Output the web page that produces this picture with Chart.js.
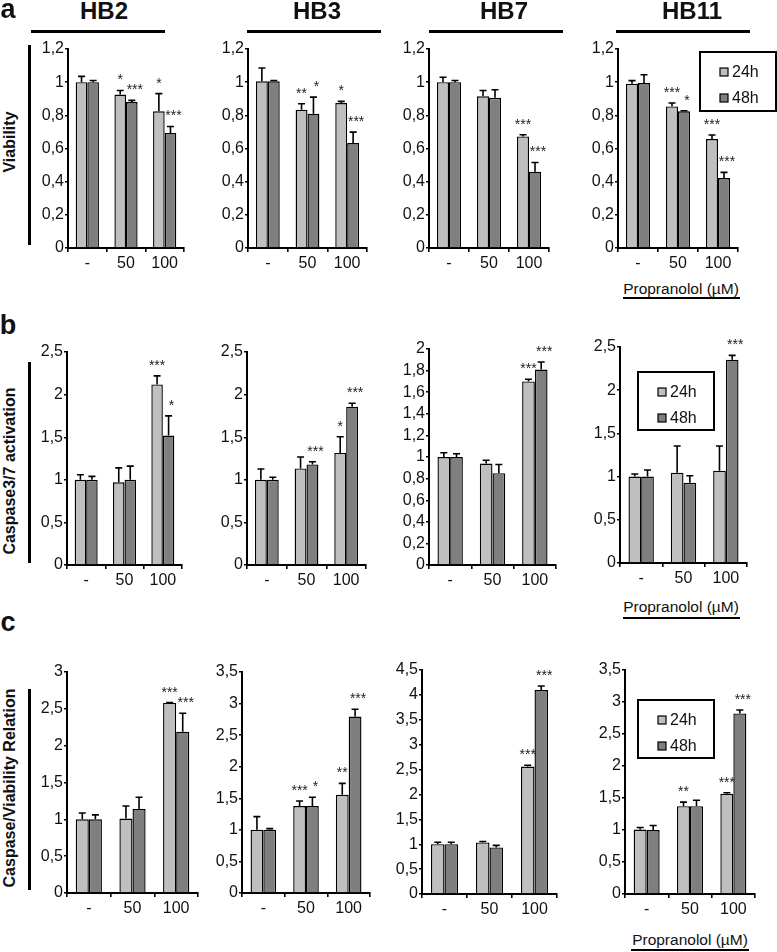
<!DOCTYPE html>
<html><head><meta charset="utf-8">
<script src="https://cdn.jsdelivr.net/npm/chart.js@4/dist/chart.umd.min.js"></script>
<style>
body{margin:0;background:#fff;width:777px;height:952px;position:relative;overflow:hidden;font-family:"Liberation Sans",Arial,Helvetica,sans-serif;color:#111}
.abs{position:absolute;white-space:nowrap}
.c{transform:translate(-50%,-50%)}
.title{font-weight:bold;font-size:24px;line-height:24px}
.letter{font-weight:bold;font-size:27px;line-height:27px}
.ytitle{font-weight:bold;font-size:16px;line-height:16px;transform:translate(-50%,-50%) rotate(-90deg)}
.line{position:absolute;background:#000}
.prop{font-size:15.5px;line-height:16px}
canvas{position:absolute}
</style></head><body>
<script>
// ---------------- data ----------------
const cellLines = ['HB2','HB3','HB7','HB11'];
const doses = ['-','50','100'];
const timeLabels = ['24h','48h'];

// (a) Viability
const viability24h    = [[1.0,0.925,0.824],[1.005,0.834,0.874],[1.0,0.915,0.673],[0.991,0.854,0.657]];
const viability24hErr = [[0.035,0.025,0.107],[0.08,0.036,0.01],[0.03,0.035,0.01],[0.018,0.02,0.024]];
const viability48h    = [[1.0,0.88,0.693],[1.005,0.81,0.633],[1.0,0.906,0.46],[0.995,0.824,0.422]];
const viability48hErr = [[0.01,0.01,0.04],[0.005,0.1,0.066],[0.01,0.048,0.056],[0.05,0.004,0.034]];
const viabilityStars24h = [['','*','*'],['','**','*'],['','','***'],['','***','***']];
const viabilityStars48h = [['','***','***'],['','*','***'],['','','***'],['','*','***']];
const viabilityMax = [1.2,1.2,1.2,1.2];
const viabilityStep = [0.2,0.2,0.2,0.2];

// (b) Caspase3/7 activation
const caspase24h    = [[1.0,0.97,2.12],[1.0,1.134,1.315],[1.0,0.94,1.70],[1.0,1.045,1.068]];
const caspase24hErr = [[0.06,0.17,0.1],[0.126,0.134,0.19],[0.04,0.03,0.02],[0.03,0.31,0.286]];
const caspase48h    = [[1.0,1.0,1.52],[1.0,1.181,1.858],[1.0,0.85,1.81],[1.0,0.929,2.353]];
const caspase48hErr = [[0.04,0.16,0.23],[0.03,0.03,0.04],[0.03,0.08,0.07],[0.076,0.081,0.05]];
const caspaseStars24h = [['','','***'],['','','*'],['','','***'],['','','']];
const caspaseStars48h = [['','','*'],['','***','***'],['','','***'],['','','***']];
const caspaseMax = [2.5,2.5,2,2.5];
const caspaseStep = [0.5,0.5,0.2,0.5];

// (c) Caspase/Viability Relation
const ratio24h    = [[1.0,1.01,2.58],[1.0,1.376,1.556],[1.0,1.036,2.56],[1.007,1.372,1.565]];
const ratio24hErr = [[0.085,0.17,0.005],[0.21,0.08,0.18],[0.04,0.02,0.027],[0.031,0.063,0.016]];
const ratio48h    = [[1.0,1.14,2.19],[1.0,1.376,2.795],[1.0,0.936,4.098],[1.0,1.372,2.822]];
const ratio48hErr = [[0.06,0.16,0.25],[0.02,0.14,0.115],[0.04,0.04,0.08],[0.07,0.094,0.052]];
const ratioStars24h = [['','','***'],['','***','**'],['','','***'],['','**','***']];
const ratioStars48h = [['','','***'],['','*','***'],['','','***'],['','','***']];
const ratioMax = [3,3.5,4.5,3.5];
const ratioStep = [0.5,0.5,0.5,0.5];

// ---------------- layout (page pixels) ----------------
const rowsLayout = [
  {panels:[{x:68,end:184,top:49,zero:248},{x:248,end:367,top:49,zero:248},{x:429,end:549,top:49,zero:248},{x:618,end:738,top:49,zero:248}],
   legend:{x:700,y:52,w:76,h:59}},
  {panels:[{x:67,end:182,top:352,zero:565},{x:247,end:366,top:352,zero:565},{x:429,end:556,top:349,zero:565},{x:620,end:747,top:347,zero:563}],
   legend:{x:638,y:372,w:76,h:58}},
  {panels:[{x:67,end:198,top:672,zero:893},{x:242,end:370,top:672,zero:893},{x:422,end:557,top:670,zero:894},{x:625,end:755,top:670,zero:894}],
   legend:{x:638,y:700,w:76,h:58}}
];
const rowsData = [
  [viability24h,viability24hErr,viability48h,viability48hErr,viabilityStars24h,viabilityStars48h,viabilityMax,viabilityStep],
  [caspase24h,caspase24hErr,caspase48h,caspase48hErr,caspaseStars24h,caspaseStars48h,caspaseMax,caspaseStep],
  [ratio24h,ratio24hErr,ratio48h,ratio48hErr,ratioStars24h,ratioStars48h,ratioMax,ratioStep]
];

const FONT = '"Liberation Sans", Arial, Helvetica, sans-serif';
const LIGHT = '#bfbfbf', DARK = '#7f7f7f';

const errPlugin = {
  id: 'errStars',
  afterDatasetsDraw(chart, args, opts) {
    const ctx = chart.ctx, ys = chart.scales.y;
    chart.data.datasets.forEach((ds, di) => {
      const meta = chart.getDatasetMeta(di);
      meta.data.forEach((bar, i) => {
        const v = ds.data[i], e = ds.errors[i];
        const yB = ys.getPixelForValue(v), yT = ys.getPixelForValue(v + e);
        ctx.save();
        ctx.strokeStyle = '#000'; ctx.lineWidth = 1.6;
        ctx.beginPath();
        ctx.moveTo(bar.x, yB); ctx.lineTo(bar.x, yT);
        ctx.moveTo(bar.x - 3.5, yT); ctx.lineTo(bar.x + 3.5, yT);
        ctx.stroke();
        const s = ds.stars[i];
        if (s) {
          ctx.font = '14px ' + FONT; ctx.fillStyle = '#222';
          ctx.textAlign = 'center'; ctx.textBaseline = 'alphabetic';
          ctx.fillText(s, bar.x + (di ? 3 : 0), yT - 6);
        }
        ctx.restore();
      });
    });
    if (opts.legend) {
      const L = opts.legend, ox = opts.ox, oy = opts.oy;
      const bx = L.x - ox, by = L.y - oy;
      ctx.save();
      ctx.fillStyle = '#fff'; ctx.fillRect(bx, by, L.w, L.h);
      ctx.strokeStyle = '#000'; ctx.lineWidth = 2; ctx.strokeRect(bx, by, L.w, L.h);
      chart.data.datasets.forEach((ds, di) => {
        const cy = by + (di ? 46 : 20);
        ctx.fillStyle = ds.backgroundColor; ctx.fillRect(bx + 20, cy - 4, 8, 8);
        ctx.lineWidth = 1.2; ctx.strokeRect(bx + 20, cy - 4, 8, 8);
        ctx.fillStyle = '#111'; ctx.font = '16px ' + FONT;
        ctx.textAlign = 'left'; ctx.textBaseline = 'middle';
        ctx.fillText(ds.label, bx + 32, cy + 1);
      });
      ctx.restore();
    }
  }
};

function fmt(v){ return String(Math.round(v*10)/10).replace('.', ','); }

function makePanel(g, r, p, legend) {
  const [v24, e24, v48, e48, s24, s48, maxA, stepA] = rowsData[r];
  const padTop = 20, yW = 40, xH = 30;
  const padRight = legend ? Math.max(6, legend.x + legend.w + 2 - g.end) : 6;
  const left = g.x - yW, top = g.top - padTop;
  const W = (g.end - g.x) + yW + padRight;
  const H = (g.zero - g.top) + padTop + xH;
  const cv = document.createElement('canvas');
  cv.width = W; cv.height = H;
  cv.style.left = left + 'px'; cv.style.top = top + 'px';
  cv.style.width = W + 'px'; cv.style.height = H + 'px';
  document.body.appendChild(cv);
  new Chart(cv, {
    type: 'bar',
    data: {
      labels: doses,
      datasets: [
        {label: timeLabels[0], data: v24[p], errors: e24[p], stars: s24[p], backgroundColor: LIGHT, borderColor: '#000', borderWidth: 1.4, categoryPercentage: 0.6, barPercentage: 1.0},
        {label: timeLabels[1], data: v48[p], errors: e48[p], stars: s48[p], backgroundColor: DARK, borderColor: '#000', borderWidth: 1.4, categoryPercentage: 0.6, barPercentage: 1.0}
      ]
    },
    options: {
      responsive: false, animation: false, devicePixelRatio: 1,
      layout: {padding: {top: padTop, right: padRight, left: 0, bottom: 0}},
      plugins: {legend: {display: false}, tooltip: {enabled: false},
        errStars: {legend: legend || null, ox: left, oy: top}},
      scales: {
        x: {
          offset: true,
          grid: {display: true, drawOnChartArea: false, drawTicks: true, tickLength: 4, color: '#000', lineWidth: 1.6, offset: true},
          border: {display: true, color: '#000', width: 2},
          ticks: {color: '#111', font: {family: FONT, size: 16}, padding: 2, maxRotation: 0, autoSkip: false},
          afterFit(s){ s.height = xH; }
        },
        y: {
          min: 0, max: maxA[p],
          grid: {display: true, drawOnChartArea: false, drawTicks: true, tickLength: 3, color: '#000', lineWidth: 1.4},
          border: {display: true, color: '#000', width: 2},
          ticks: {stepSize: stepA[p], autoSkip: false, color: '#111', font: {family: FONT, size: 16}, padding: 1, callback: v => fmt(v)},
          afterFit(s){ s.width = yW; }
        }
      }
    },
    plugins: [errPlugin]
  });
}

rowsLayout.forEach((row, r) => {
  row.panels.forEach((g, p) => makePanel(g, r, p, p === 3 ? row.legend : null));
});

// ---------------- text & decoration ----------------
function addText(cls, text, x, y) {
  const d = document.createElement('div');
  d.className = 'abs ' + cls; d.textContent = text;
  d.style.left = x + 'px'; d.style.top = y + 'px';
  document.body.appendChild(d); return d;
}
function addLine(x, y, w, h) {
  const d = document.createElement('div');
  d.className = 'line';
  d.style.left = x + 'px'; d.style.top = y + 'px'; d.style.width = w + 'px'; d.style.height = h + 'px';
  document.body.appendChild(d);
}
const titleCenters = [104, 317, 504, 692];
const titleLines = [[31,165],[247,381],[429,563],[616,750]];
cellLines.forEach((n, i) => {
  addText('title c', n, titleCenters[i], 11);
  addLine(titleLines[i][0], 30, titleLines[i][1] - titleLines[i][0], 3);
});
addText('letter c', 'a', 8, 9);
addText('letter c', 'b', 8, 325);
addText('letter c', 'c', 8, 622);

addText('ytitle', 'Viability', 10, 142);
addText('ytitle', 'Caspase3/7 activation', 10, 471);
addText('ytitle', 'Caspase/Viability Relation', 10, 788);
addLine(28, 45, 3, 200);
addLine(28, 362, 3, 201);
addLine(28, 689, 3, 201);

const propLabel = 'Propranolol (µM)';
addText('prop c', propLabel, 681, 289);
addLine(623, 297, 117, 2);
addText('prop c', propLabel, 681, 607);
addLine(623, 617, 117, 2);
addText('prop c', propLabel, 690, 940);
addLine(631, 949, 118, 2);
</script>
</body></html>
